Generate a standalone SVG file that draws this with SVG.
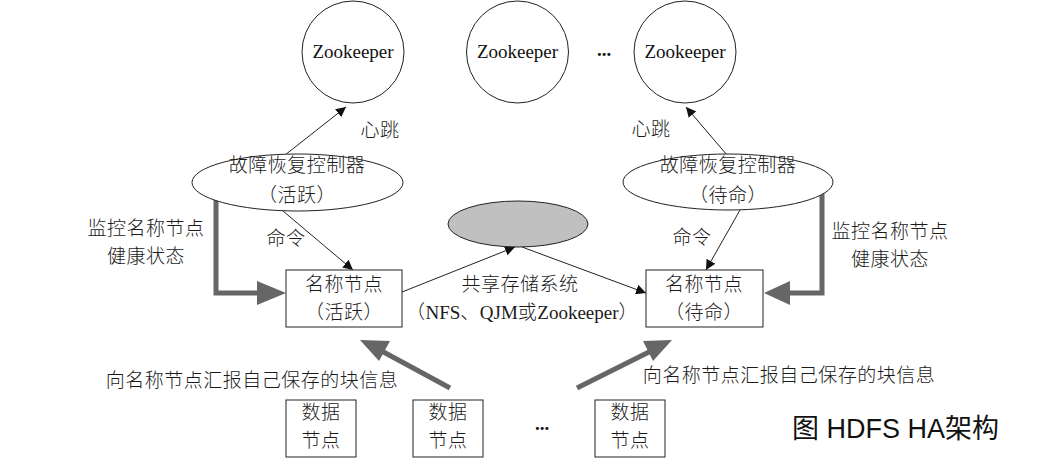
<svg xmlns="http://www.w3.org/2000/svg" width="1055" height="459" viewBox="0 0 1055 459">
<style>
.cn{font-family:"Noto Sans CJK SC","Liberation Serif",sans-serif;font-size:19px;fill:#1a1a1a;text-anchor:middle;font-weight:300;letter-spacing:0.5px}
.en{font-family:"Liberation Serif",serif;font-size:19px;fill:#111;text-anchor:middle}
.shape{fill:#fff;stroke:#222;stroke-width:1}
.thin{stroke:#222;stroke-width:1;fill:none}
.thick{stroke:#666;stroke-width:5;fill:none}
.head{fill:#666}
</style>
<defs>
<marker id="arr" viewBox="0 0 10 10" refX="10" refY="5" markerWidth="10" markerHeight="10" markerUnits="userSpaceOnUse" orient="auto">
<path d="M0,0 L10,5 L0,10 Z" fill="#111"/>
</marker>
</defs>
<rect width="1055" height="459" fill="#fff"/>
<g id="zk1"><circle class="shape" cx="353" cy="52" r="51"/><text class="en" x="353" y="58">Zookeeper</text></g>
<g id="zk2"><circle class="shape" cx="517.5" cy="52" r="51"/><text class="en" x="517.5" y="58">Zookeeper</text></g>
<g id="zk-dots"><text class="en" x="604" y="56" font-weight="bold">...</text></g>
<g id="zk3"><circle class="shape" cx="685" cy="52" r="51"/><text class="en" x="685" y="58">Zookeeper</text></g>
<g id="connectors">
<line class="thin" x1="285" y1="155" x2="346" y2="107" marker-end="url(#arr)"/>
<line class="thin" x1="727" y1="155" x2="686" y2="107" marker-end="url(#arr)"/>
<line class="thin" x1="283" y1="211" x2="353" y2="270" marker-end="url(#arr)"/>
<line class="thin" x1="740" y1="210" x2="706" y2="270" marker-end="url(#arr)"/>
<line class="thin" x1="402" y1="292" x2="515" y2="247" marker-end="url(#arr)"/>
<line class="thin" x1="522" y1="247" x2="646" y2="293" marker-end="url(#arr)"/>
<polyline class="thick" points="216,198 216,293 260,293"/>
<path class="head" d="M286,293 L257,281 L257,305 Z"/>
<polyline class="thick" points="822,193 822,293 788,293"/>
<path class="head" d="M764,293 L790,281 L790,305 Z"/>
<line class="thick" x1="450" y1="388" x2="378" y2="349"/>
<path class="head" d="M360,340 L390,341 L379,361 Z"/>
<line class="thick" x1="577" y1="388" x2="655" y2="349"/>
<path class="head" d="M672,340 L643,341 L653,361 Z"/>
</g>
<g id="labels">
<text class="cn" x="380" y="137">心跳</text>
<text class="cn" x="651" y="136">心跳</text>
<text class="cn" x="286" y="245">命令</text>
<text class="cn" x="692" y="244">命令</text>
<text class="cn" x="146" y="235">监控名称节点</text>
<text class="cn" x="146" y="263">健康状态</text>
<text class="cn" x="890" y="238">监控名称节点</text>
<text class="cn" x="890" y="266">健康状态</text>
<text class="cn" x="520" y="291">共享存储系统</text>
<text class="cn" x="522" y="319"><tspan>（</tspan><tspan font-family="Liberation Serif" font-weight="400" letter-spacing="0">NFS</tspan><tspan>、</tspan><tspan font-family="Liberation Serif" font-weight="400" letter-spacing="0">QJM</tspan><tspan>或</tspan><tspan font-family="Liberation Serif" font-weight="400" letter-spacing="0">Zookeeper</tspan><tspan>）</tspan></text>
<text class="cn" x="252" y="387">向名称节点汇报自己保存的块信息</text>
<text class="cn" x="789" y="382">向名称节点汇报自己保存的块信息</text>
</g>
<g id="zkfc-active"><ellipse class="shape" cx="297.5" cy="182.5" rx="105.5" ry="28.5"/><text class="cn" x="297" y="172">故障恢复控制器</text><text class="cn" x="297" y="202">（活跃）</text></g>
<g id="zkfc-standby"><ellipse class="shape" cx="728" cy="182" rx="105" ry="28"/><text class="cn" x="728" y="172">故障恢复控制器</text><text class="cn" x="728" y="202">（待命）</text></g>
<g id="shared-storage"><ellipse cx="518" cy="224" rx="70" ry="23" fill="#c0c0c0" stroke="#222" stroke-width="1"/></g>
<g id="nn-active"><rect class="shape" x="286" y="270" width="116" height="57"/><text class="cn" x="344" y="291">名称节点</text><text class="cn" x="344" y="319">（活跃）</text></g>
<g id="nn-standby"><rect class="shape" x="646" y="270" width="117" height="57"/><text class="cn" x="704" y="291">名称节点</text><text class="cn" x="704" y="319">（待命）</text></g>
<g id="dn1"><rect class="shape" x="286" y="400" width="70" height="57"/><text class="cn" x="321" y="419">数据</text><text class="cn" x="321" y="447">节点</text></g>
<g id="dn2"><rect class="shape" x="413" y="400" width="70" height="57"/><text class="cn" x="448" y="419">数据</text><text class="cn" x="448" y="447">节点</text></g>
<g id="dn-dots"><text class="en" x="542" y="430" font-weight="bold">...</text></g>
<g id="dn3"><rect class="shape" x="595" y="400" width="70" height="57"/><text class="cn" x="630" y="419">数据</text><text class="cn" x="630" y="447">节点</text></g>
<g id="caption"><text x="792" y="438" font-family="Liberation Sans,'Noto Sans CJK SC',sans-serif" font-size="27" fill="#111">图 HDFS HA架构</text></g>
</svg>
